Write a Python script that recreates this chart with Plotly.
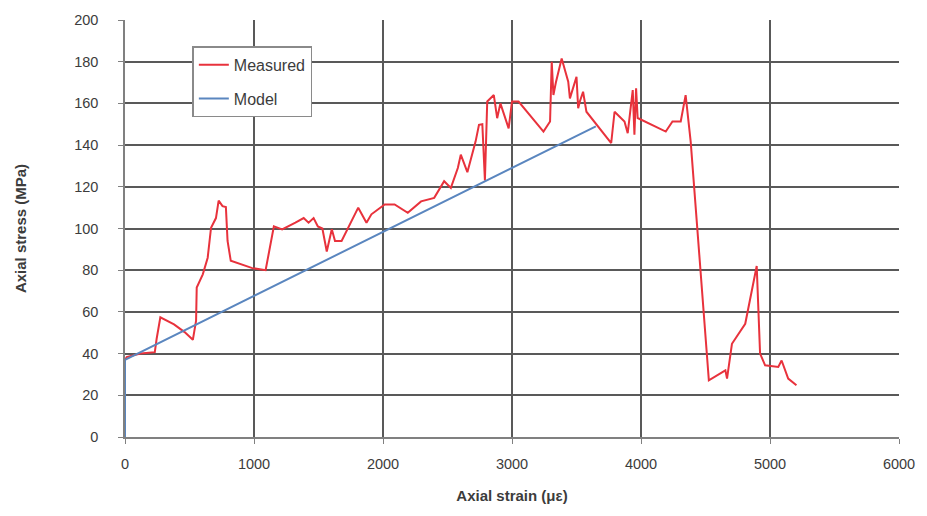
import plotly.graph_objects as go

# Measured stress-strain record (strain in microstrain, stress in MPa)
measured_strain = [0, 13, 120, 231, 245, 274, 380, 462, 526, 551, 556, 603, 641, 654,
                   667, 705, 726, 756, 782, 795, 820, 987, 1090, 1154, 1218, 1321, 1385,
                   1423, 1462, 1495, 1530, 1564, 1603, 1628, 1679, 1808, 1872, 1910, 2013,
                   2090, 2192, 2295, 2397, 2474, 2526, 2580, 2603, 2654, 2692, 2718, 2744,
                   2770, 2790, 2808, 2859, 2885, 2910, 2974, 3000, 3051, 3244, 3295, 3308,
                   3321, 3340, 3385, 3436, 3449, 3500, 3513, 3526, 3551, 3577, 3769, 3795,
                   3872, 3897, 3936, 3949, 3962, 3974, 4192, 4244, 4308, 4346, 4385, 4526,
                   4654, 4667, 4705, 4808, 4897, 4923, 4962, 5064, 5090, 5141, 5205]
measured_stress = [37, 38.3, 40, 40.7, 47, 57.4, 54, 50.3, 46.6, 55.8, 71.7, 78, 86, 94,
                   100.4, 105, 113.4, 110.7, 110.3, 94, 84.5, 81, 80, 101, 99.6, 102.8, 105,
                   102.8, 105, 101, 100, 89, 99.6, 94, 94, 110, 102.8, 106.8, 111.5,
                   111.5, 107.5, 113, 114.7, 122.7, 119.5, 129, 135.4, 127, 136, 141.8, 149.7,
                   150, 123, 160.9, 164, 152.9, 160, 148, 160.9, 160.9, 146.5, 151.3, 180,
                   164, 170, 181.5, 170.4, 162.4, 172.8, 157.7, 160.9, 165.6, 156, 141, 156,
                   151.3, 145.7, 166.4, 145, 167.2, 153, 146.5, 151.3, 151.3, 164, 141.8, 27.2,
                   32, 28, 44.7, 54.3, 82, 40, 34.4, 33.6, 36.7, 28, 24.8]

# Linear model prediction
model_strain = [0, 0, 3650]
model_stress = [0, 37, 149]

x_ticks = [0, 1000, 2000, 3000, 4000, 5000, 6000]
y_ticks = [0, 20, 40, 60, 80, 100, 120, 140, 160, 180, 200]

font_family = "Liberation Sans, Arial, sans-serif"
grid_color = "#595959"
axis_color = "#808080"

fig = go.Figure()
fig.add_trace(go.Scatter(
    x=measured_strain, y=measured_stress, mode="lines", name="Measured",
    legendgroup="a", line=dict(color="#e8323c", width=2),
))
fig.add_trace(go.Scatter(
    x=model_strain, y=model_stress, mode="lines", name="Model",
    legendgroup="b", line=dict(color="#5a86bf", width=2),
))

fig.update_layout(
    width=927, height=516,
    margin=dict(l=125, r=20, t=17, b=79),
    paper_bgcolor="white", plot_bgcolor="white",
    font=dict(family=font_family, size=14, color="#3c3c3c"),
    showlegend=True,
    legend=dict(
        x=0.087, y=0.937, xanchor="left", yanchor="top",
        bgcolor="white", bordercolor="#8a8a8a", borderwidth=1.5,
        font=dict(size=16, color="#3c3c3c"),
        tracegroupgap=10, itemwidth=30,
    ),
    xaxis=dict(
        range=[0, 6000], tickvals=x_ticks, ticktext=[str(v) for v in x_ticks],
        showgrid=True, gridcolor=grid_color, gridwidth=1.6,
        showline=True, linecolor=axis_color, linewidth=1.5,
        ticks="outside", ticklen=5, tickcolor=axis_color,
        zeroline=False, ticklabelstandoff=8,
        tickfont=dict(size=14.5),
        title=dict(text="<b>Axial strain (με)</b>", standoff=19,
                   font=dict(size=15, color="#3c3c3c")),
    ),
    yaxis=dict(
        range=[0, 200], tickvals=y_ticks, ticktext=[str(v) for v in y_ticks],
        showgrid=True, gridcolor=grid_color, gridwidth=1.6,
        showline=True, linecolor=axis_color, linewidth=1.5,
        ticks="outside", ticklen=5, tickcolor=axis_color,
        zeroline=False, ticklabelstandoff=17,
        tickfont=dict(size=14.5),
        title=dict(text="<b>Axial stress (MPa)</b>", standoff=44,
                   font=dict(size=15, color="#3c3c3c")),
    ),
)

fig.write_html("out.html")
